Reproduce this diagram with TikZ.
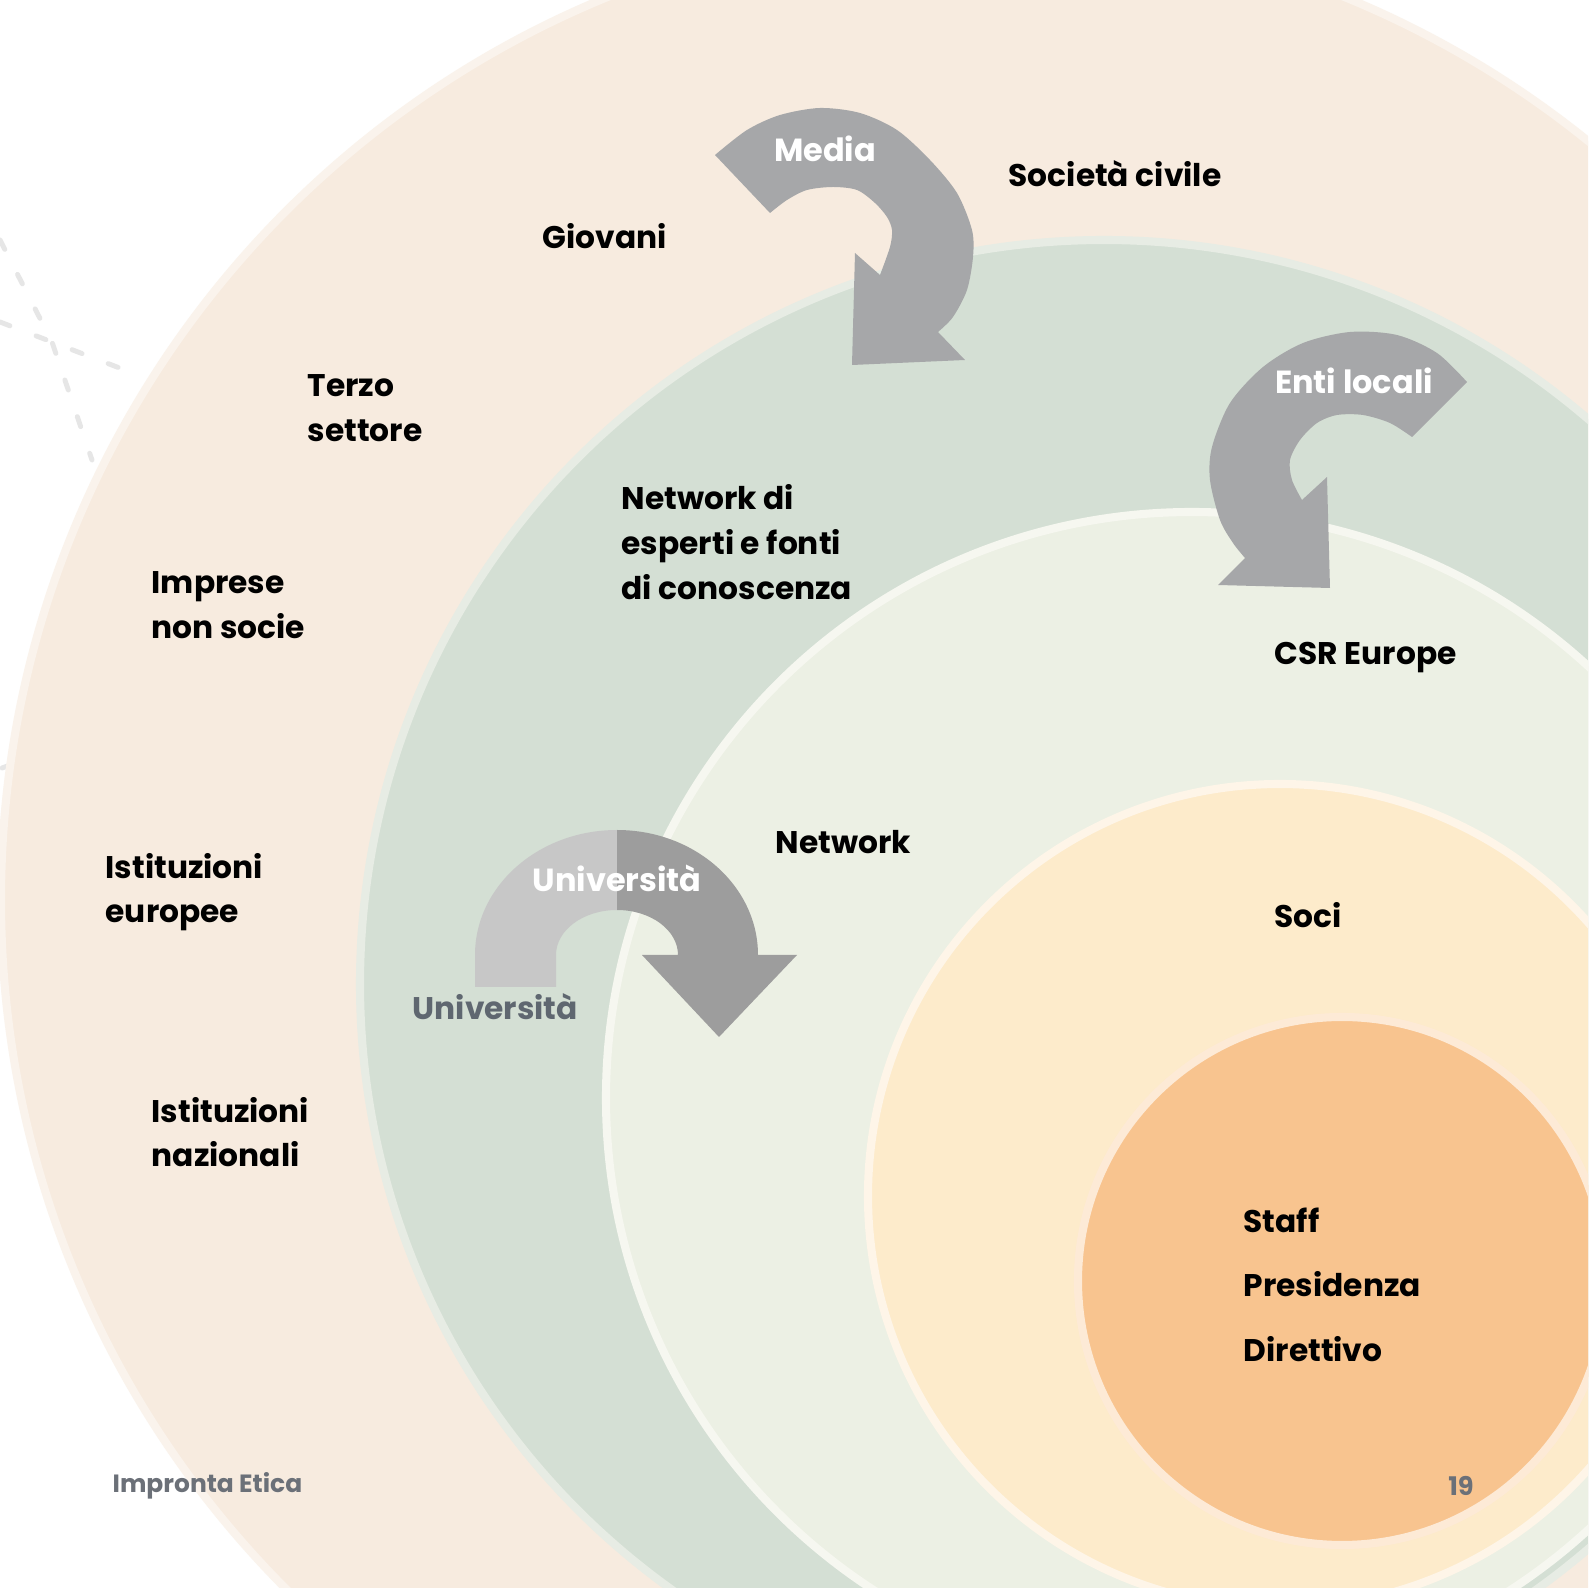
\documentclass[tikz,border=0pt]{standalone}
\usepackage{fontspec}
\setmainfont{Poppins}
\definecolor{peach}{HTML}{F7EBDF}
\definecolor{peachrim}{HTML}{FAF3EC}
\definecolor{sage}{HTML}{D4DFD4}
\definecolor{sagerim}{HTML}{E7ECE4}
\definecolor{mint}{HTML}{ECF0E4}
\definecolor{mintrim}{HTML}{F6F7F0}
\definecolor{cream}{HTML}{FDEBCB}
\definecolor{creamrim}{HTML}{FEF5E8}
\definecolor{apricot}{HTML}{F8C48F}
\definecolor{apricotrim}{HTML}{FDEAD6}
\definecolor{arrowgray}{HTML}{A6A7A9}
\definecolor{unilight}{HTML}{C7C7C7}
\definecolor{unidark}{HTML}{9D9D9D}
\definecolor{unitext}{HTML}{5F6770}
\definecolor{foot}{HTML}{6B7078}
\definecolor{dashgray}{HTML}{E6E6E6}

\tikzset{
	lbl/.style={anchor=west,align=left,inner xsep=0pt,text=black,font=\bfseries\fontsize{8.9}{12.7}\selectfont},
	arrowtxt/.style={text=white,font=\bfseries\fontsize{9.1}{12.7}\selectfont},
	rim/.style={line width=2.3pt},
	deco/.style={dashgray,line width=1.4pt,line cap=round,dash pattern=on 3pt off 8pt}
}

\begin{document}
\begin{tikzpicture}[x=0.1mm,y=0.1mm]
\useasboundingbox (0,0) rectangle (1588,1588);
\clip (0,0) rectangle (1588,1588);
\fill[white] (0,0) rectangle (1588,1588);

% dashed lines behind the rings
\draw[deco] (0,1348) -- (52,1246) -- (92,1128);
\draw[deco] (0,1266) -- (130,1216);
\draw[deco] (2,820) -- (16,825);

% rings, outside in
\foreach \cx/\cy/\r/\fc/\rc in {976/688/975/peach/peachrim,1104/604/744/sage/sagerim,1192/490/586/mint/mintrim,1280/392/412/cream/creamrim,1342/307/264/apricot/apricotrim} {
	\filldraw[rim,fill=\fc,draw=\rc] (\cx,\cy) circle [radius=\r];
	}

% Media arrow
\fill[arrowgray] plot[smooth] coordinates {(715,1433) (747,1458) (780,1473) (820,1480) (860,1475) (897,1458) (930,1428) (957,1395) (972,1358) (973,1331) (967,1298) (953,1271) (938,1256)}
	-- (965,1228) -- (852,1223) -- (855,1335)
	-- plot[smooth] coordinates {(880,1313) (890,1341) (892,1358) (887,1371) (875,1385) (857,1398) (833,1401) (807,1398) (787,1388) (770,1375)} -- cycle;

% Enti locali arrow
\fill[arrowgray] plot[smooth] coordinates {(1467,1206) (1437,1235) (1397,1253) (1350,1256) (1303,1245) (1263,1221) (1230,1185) (1212,1141) (1210,1108) (1220,1068) (1233,1045) (1245,1030)}
	-- (1218,1003) -- (1330,1000) -- (1327,1111)
	-- plot[smooth] coordinates {(1302,1088) (1292,1108) (1290,1128) (1300,1148) (1317,1165) (1337,1173) (1363,1173) (1390,1165) (1412,1151)} -- cycle;

% Universita arrow, two halves
\fill[unilight] (475,601) -- (475,633) arc [start angle=180,end angle=90,x radius=142,y radius=125]
	-- (617,678) arc [start angle=90,end angle=180,x radius=61,y radius=45] -- (556,601) -- cycle;
\fill[unidark] (617,758) arc [start angle=90,end angle=0,x radius=141,y radius=125]
	-- (797,633) -- (719,551) -- (642,633) -- (678,633) arc [start angle=0,end angle=90,x radius=61,y radius=45] -- cycle;

\node (media) at (825,1439) [arrowtxt] {Media};
\node (enti) at (1354,1207) [arrowtxt] {Enti locali};
\node (unitop) at (617,710) [arrowtxt] {Università};
\node (unibot) at (412,581) [lbl,text=unitext] {Università};

\node (civile) at (1008,1414) [lbl] {Società civile};
\node (giovani) at (542,1352) [lbl] {Giovani};
\node (terzo) at (307,1180) [lbl] {Terzo\\settore};
\node (esperti) at (621,1046) [lbl] {Network di\\esperti e fonti\\di conoscenza};
\node (imprese) at (151,983) [lbl] {Imprese\\non socie};
\node (csr) at (1274,930) [lbl] {CSR Europe};
\node (network) at (775,746) [lbl] {Network};
\node (europee) at (105,696) [lbl] {Istituzioni\\europee};
\node (soci) at (1274,673) [lbl] {Soci};
\node (nazionali) at (151,456) [lbl] {Istituzioni\\nazionali};
\foreach \n/\t/\y in {staff/Staff/368,presidenza/Presidenza/304,direttivo/Direttivo/239} {
	\node (\n) at (1243,\y) [lbl] {\t};
	}

\node (brand) at (112,102) [anchor=west,inner xsep=0pt,text=foot,font=\bfseries\fontsize{7.1}{9}\selectfont] {Impronta Etica};
\node (page) at (1461,102) [text=foot,font=\bfseries\fontsize{7.3}{9}\selectfont] {19};
\end{tikzpicture}
\end{document}
